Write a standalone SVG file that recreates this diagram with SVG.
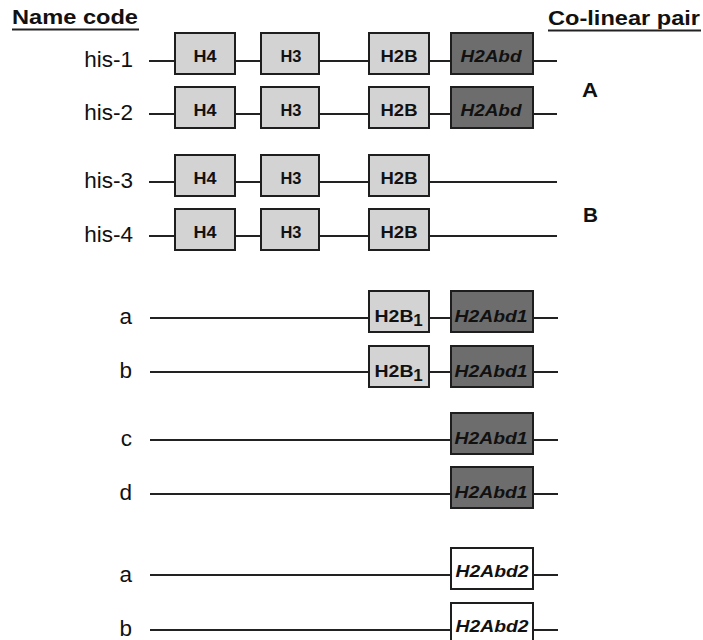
<svg xmlns="http://www.w3.org/2000/svg" width="703" height="640" viewBox="0 0 703 640">
<style>
.bg{fill:#ffffff}
.ln{stroke:#222;stroke-width:2;fill:none}
.lt{fill:#d3d3d3;stroke:#1e1e1e;stroke-width:2}
.dk{fill:#6d6d6d;stroke:#1e1e1e;stroke-width:2}
.wh{fill:#ffffff;stroke:#1e1e1e;stroke-width:2}
.bt{font-family:"Liberation Sans",Arial,sans-serif;font-weight:bold;font-size:17px;fill:#111;text-anchor:middle}
.it{font-style:italic}
.rl{font-family:"Liberation Sans",Arial,sans-serif;font-size:22.5px;fill:#111;text-anchor:end}
.hd{font-family:"Liberation Sans",Arial,sans-serif;font-weight:bold;font-size:20px;fill:#111}
.pl{font-family:"Liberation Sans",Arial,sans-serif;font-weight:bold;font-size:20px;fill:#111}
</style>
<rect class="bg" x="0" y="0" width="703" height="640"/>

<g id="headers">
  <text class="hd" x="12" y="24" textLength="126" lengthAdjust="spacingAndGlyphs">Name code</text>
  <line class="ln" x1="12" y1="29.5" x2="139" y2="29.5"/>
  <text class="hd" x="548" y="25" textLength="152" lengthAdjust="spacingAndGlyphs">Co-linear pair</text>
  <line class="ln" x1="548" y1="30.5" x2="701" y2="30.5"/>
  <text class="pl" x="582" y="97" textLength="16" lengthAdjust="spacingAndGlyphs">A</text>
  <text class="pl" x="583" y="222" textLength="15" lengthAdjust="spacingAndGlyphs">B</text>
</g>

<g id="row-labels">
  <text class="rl" x="133" y="67">his-1</text>
  <text class="rl" x="133" y="120">his-2</text>
  <text class="rl" x="133" y="188">his-3</text>
  <text class="rl" x="133" y="242">his-4</text>
  <text class="rl" x="132" y="324">a</text>
  <text class="rl" x="132" y="378">b</text>
  <text class="rl" x="132" y="446">c</text>
  <text class="rl" x="132" y="500">d</text>
  <text class="rl" x="132" y="582">a</text>
  <text class="rl" x="132" y="636">b</text>
</g>

<g id="connectors">
  <line class="ln" x1="149" y1="61" x2="557" y2="61"/>
  <line class="ln" x1="149" y1="114" x2="557" y2="114"/>
  <line class="ln" x1="149" y1="182" x2="557" y2="182"/>
  <line class="ln" x1="149" y1="236" x2="557" y2="236"/>
  <line class="ln" x1="150" y1="318" x2="558" y2="318"/>
  <line class="ln" x1="150" y1="372" x2="558" y2="372"/>
  <line class="ln" x1="150" y1="440" x2="558" y2="440"/>
  <line class="ln" x1="150" y1="494" x2="558" y2="494"/>
  <line class="ln" x1="150" y1="575" x2="558" y2="575"/>
  <line class="ln" x1="150" y1="630" x2="558" y2="630"/>
</g>

<g id="his1-H4"><rect class="lt" x="175" y="33" width="60" height="41"/><text class="bt" x="205" y="62" textLength="23" lengthAdjust="spacingAndGlyphs">H4</text></g>
<g id="his1-H3"><rect class="lt" x="261" y="33" width="58" height="41"/><text class="bt" x="291" y="62" textLength="21" lengthAdjust="spacingAndGlyphs">H3</text></g>
<g id="his1-H2B"><rect class="lt" x="369" y="33" width="60" height="41"/><text class="bt" x="399" y="62" textLength="37" lengthAdjust="spacingAndGlyphs">H2B</text></g>
<g id="his1-H2Abd"><rect class="dk" x="451" y="33" width="82" height="41"/><text class="bt it" x="491" y="62" textLength="61" lengthAdjust="spacingAndGlyphs">H2Abd</text></g>

<g id="his2-H4"><rect class="lt" x="175" y="87" width="60" height="41"/><text class="bt" x="205" y="116" textLength="23" lengthAdjust="spacingAndGlyphs">H4</text></g>
<g id="his2-H3"><rect class="lt" x="261" y="87" width="58" height="41"/><text class="bt" x="291" y="116" textLength="21" lengthAdjust="spacingAndGlyphs">H3</text></g>
<g id="his2-H2B"><rect class="lt" x="369" y="87" width="60" height="41"/><text class="bt" x="399" y="116" textLength="37" lengthAdjust="spacingAndGlyphs">H2B</text></g>
<g id="his2-H2Abd"><rect class="dk" x="451" y="87" width="82" height="41"/><text class="bt it" x="491" y="116" textLength="61" lengthAdjust="spacingAndGlyphs">H2Abd</text></g>

<g id="his3-H4"><rect class="lt" x="175" y="155" width="60" height="41"/><text class="bt" x="205" y="184" textLength="23" lengthAdjust="spacingAndGlyphs">H4</text></g>
<g id="his3-H3"><rect class="lt" x="261" y="155" width="58" height="41"/><text class="bt" x="291" y="184" textLength="21" lengthAdjust="spacingAndGlyphs">H3</text></g>
<g id="his3-H2B"><rect class="lt" x="369" y="155" width="60" height="41"/><text class="bt" x="399" y="184" textLength="37" lengthAdjust="spacingAndGlyphs">H2B</text></g>

<g id="his4-H4"><rect class="lt" x="175" y="209" width="60" height="41"/><text class="bt" x="205" y="238" textLength="23" lengthAdjust="spacingAndGlyphs">H4</text></g>
<g id="his4-H3"><rect class="lt" x="261" y="209" width="58" height="41"/><text class="bt" x="291" y="238" textLength="21" lengthAdjust="spacingAndGlyphs">H3</text></g>
<g id="his4-H2B"><rect class="lt" x="369" y="209" width="60" height="41"/><text class="bt" x="399" y="238" textLength="37" lengthAdjust="spacingAndGlyphs">H2B</text></g>

<g id="a1-H2B1"><rect class="lt" x="369" y="291" width="60" height="41"/><text class="bt" x="394" y="322" textLength="39" lengthAdjust="spacingAndGlyphs">H2B</text><text class="bt" x="418" y="326" font-size="11">1</text></g>
<g id="a1-H2Abd1"><rect class="dk" x="451" y="291" width="82" height="41"/><text class="bt it" x="491" y="322" textLength="73" lengthAdjust="spacingAndGlyphs">H2Abd1</text></g>

<g id="b1-H2B1"><rect class="lt" x="369" y="346" width="60" height="41"/><text class="bt" x="394" y="377" textLength="39" lengthAdjust="spacingAndGlyphs">H2B</text><text class="bt" x="418" y="381" font-size="11">1</text></g>
<g id="b1-H2Abd1"><rect class="dk" x="451" y="346" width="82" height="41"/><text class="bt it" x="491" y="377" textLength="73" lengthAdjust="spacingAndGlyphs">H2Abd1</text></g>

<g id="c-H2Abd1"><rect class="dk" x="451" y="413" width="82" height="41"/><text class="bt it" x="491" y="444" textLength="73" lengthAdjust="spacingAndGlyphs">H2Abd1</text></g>
<g id="d-H2Abd1"><rect class="dk" x="451" y="467" width="82" height="41"/><text class="bt it" x="491" y="498" textLength="73" lengthAdjust="spacingAndGlyphs">H2Abd1</text></g>

<g id="a2-H2Abd2"><rect class="wh" x="451" y="548" width="82" height="41"/><text class="bt it" x="492" y="577" textLength="73" lengthAdjust="spacingAndGlyphs">H2Abd2</text></g>
<g id="b2-H2Abd2"><rect class="wh" x="451" y="603" width="82" height="41"/><text class="bt it" x="492" y="632" textLength="73" lengthAdjust="spacingAndGlyphs">H2Abd2</text></g>
</svg>
